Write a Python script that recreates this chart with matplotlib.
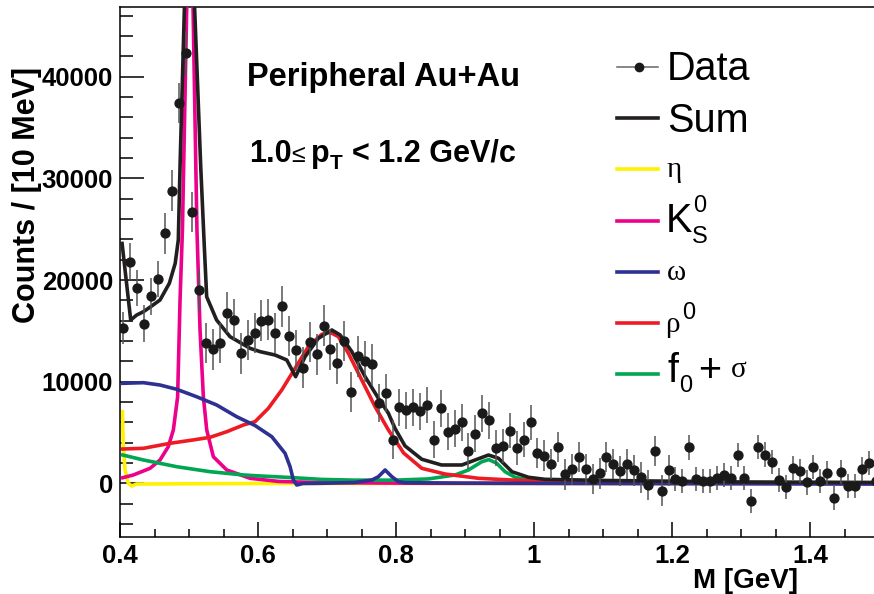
import numpy as np
import matplotlib
matplotlib.use("Agg")
import matplotlib.pyplot as plt
from matplotlib.lines import Line2D
from matplotlib.ticker import FixedLocator, FixedFormatter, MultipleLocator

plt.rcParams['font.family'] = ['Liberation Sans', 'DejaVu Sans']

# ---------------- data ----------------
mass_centers = np.round(np.arange(0.405, 1.5, 0.01), 3)   # 10 MeV bins
counts = [
    15300, 21800, 19200, 15700, 18400, 20100, 24600, 28800, 37400, 42300,
    26700, 19000, 13800, 13200, 13800, 16800, 16100, 12800, 14100, 14800,
    16000, 16100, 14800, 17400, 14500, 13100, 11400, 13900, 12700, 15500,
    13200, 11800, 14000, 9000, 12500, 12000, 11700, 7900, 8900, 4300,
    7500, 7200, 7500, 7100, 7700, 4300, 7400, 5100, 5400, 6000,
    3200, 4900, 6900, 6200, 3500, 3700, 5200, 3500, 4300, 6000,
    3000, 2750, 1900, 3600, 900, 1400, 2600, 1400, 450, 1000,
    2600, 1900, 1250, 1900, 1300, 600, -150, 3200, -700, 1300,
    450, 250, 3550, 450, 250, 250, 550, 850, 550, 2800,
    550, -1700, 3600, 2850, 2100, 350, -350, 1550, 1250, 100,
    1650, 250, 1050, -1400, 1150, -250, -250, 1400, 2000, 200,
]
errors = [
    1600, 1800, 1800, 1800, 1800, 1800, 2000, 2000, 2000, 2200,
    2000, 2000, 2000, 2000, 2000, 2000, 2000, 2000, 2000, 2000,
    2000, 2000, 2000, 2000, 2000, 2000, 2000, 2000, 2000, 2000,
    2000, 2000, 2000, 2000, 2000, 2000, 2000, 1900, 1900, 1900,
    1800, 1800, 1800, 1800, 1800, 1800, 1800, 1800, 1800, 1800,
    1800, 1800, 1800, 1800, 1800, 1700, 1700, 1700, 1700, 1700,
    1500, 1500, 1500, 1500, 1500, 1500, 1500, 1500, 1500, 1500,
    1500, 1500, 1500, 1500, 1500, 1500, 1500, 1500, 1500, 1500,
    1200, 1200, 1200, 1200, 1200, 1200, 1200, 1200, 1200, 1200,
    1200, 1200, 1200, 1200, 1200, 1200, 1200, 1200, 1200, 1200,
    1200, 1200, 1200, 1200, 1200, 1200, 1200, 1200, 1200, 1200,
]

sum_m = [0.403, 0.4155, 0.4242, 0.434, 0.4445, 0.458, 0.4715, 0.48, 0.4845, 0.487,
         0.4995, 0.517, 0.5222, 0.5256, 0.540, 0.5595, 0.5885, 0.603, 0.6247, 0.6417,
         0.6545, 0.6682, 0.6875, 0.707, 0.719, 0.736, 0.7552, 0.7745, 0.789, 0.7987,
         0.813, 0.8374, 0.866, 0.8954, 0.9147, 0.934, 0.9485, 0.968, 0.992, 1.016,
         1.1, 1.3, 1.5]
sum_v = [23600, 16070, 16560, 16890, 17380, 18040, 19680, 21640, 23940, 31140,
         62000, 31140, 23280, 18360, 16070, 14430, 13290, 12960, 12630, 12140,
         10500, 12460, 14270, 15090, 14600, 12960, 10500, 8375, 6900, 5400,
         3700, 2380, 1820, 1820, 2310, 2800, 2480, 1160, 610, 410,
         300, 150, 100]

k0s_m = [0.404, 0.4193, 0.4435, 0.458, 0.470, 0.4773, 0.4835, 0.487, 0.4905, 0.5015,
         0.5115, 0.516, 0.5208, 0.5257, 0.5353, 0.5547, 0.5885, 0.63, 0.7, 0.85, 1.5]
k0s_v = [570, 836, 1490, 2310, 3620, 5260, 8500, 18000, 25000, 63700,
         25000, 15090, 8530, 5260, 2630, 1330, 510, 200, 80, 20, 0]

omega_m = [0.404, 0.434, 0.458, 0.4822, 0.511, 0.540, 0.569, 0.5957, 0.62, 0.6392,
           0.6465, 0.6513, 0.6562, 0.665, 0.6925, 0.74, 0.765, 0.7745, 0.7842, 0.794,
           0.8035, 0.813, 0.9, 1.5]
omega_v = [9850, 9910, 9680, 9260, 8530, 7720, 6570, 5700, 4600, 2970,
           1650, 340, -150, 0, 20, 100, 340, 670, 1330, 670,
           180, 80, 30, -50]

rho_m = [0.404, 0.434, 0.4725, 0.506, 0.5305, 0.5547, 0.5788, 0.5957, 0.615, 0.6344,
         0.6537, 0.673, 0.6925, 0.7045, 0.7165, 0.731, 0.7504, 0.7697, 0.789, 0.7987,
         0.811, 0.8374, 0.8712, 0.9195, 0.968, 1.05, 1.2, 1.5]
rho_v = [3390, 3460, 3950, 4280, 4540, 5090, 5750, 6080, 7390, 9190,
         11320, 13450, 14670, 14860, 14430, 12800, 10170, 7550, 5260, 4280,
         3000, 1490, 930, 510, 340, 150, 50, 0]

f0_m = [0.404, 0.434, 0.4822, 0.5305, 0.5788, 0.6, 0.644, 0.6925, 0.74, 0.80,
        0.847, 0.8857, 0.905, 0.9244, 0.9345, 0.946, 0.958, 0.9727, 0.992, 1.05,
        1.2, 1.5]
f0_v = [2800, 2310, 1650, 1160, 840, 750, 600, 400, 330, 330,
        450, 840, 1330, 2140, 2350, 1990, 1160, 610, 340, 150,
        50, 20]

eta_m = [0.4035, 0.4048, 0.4073, 0.412, 0.417, 0.424, 0.6, 0.8, 1.0, 1.5]
eta_v = [7060, 3620, 1330, 20, -250, -50, 0, 0, 0, 0]

x_ticks = [0.4, 0.6, 0.8, 1.0, 1.2, 1.4]
x_tick_labels = ["0.4", "0.6", "0.8", "1", "1.2", "1.4"]
y_ticks = [0, 10000, 20000, 30000, 40000]
y_tick_labels = ["0", "10000", "20000", "30000", "40000"]

C_ETA = '#fff200'
C_K0S = '#ec008c'
C_OMEGA = '#2e3192'
C_RHO = '#ed1c24'
C_F0 = '#00a651'
C_SUM = '#231f20'

# ---------------- figure ----------------
W, H = 874, 594
fig = plt.figure(figsize=(W / 100, H / 100), dpi=100)
ax_l, ax_r, ax_t, ax_b = 120, 879, 7.3, 536.7
ax = fig.add_axes([ax_l / W, 1 - ax_b / H, (ax_r - ax_l) / W, (ax_b - ax_t) / H])

lw = 2.6
ax.plot(eta_m, eta_v, color=C_ETA, lw=lw, zorder=2)
ax.plot(k0s_m, k0s_v, color=C_K0S, lw=lw, zorder=3)
ax.plot(f0_m, f0_v, color=C_F0, lw=lw, zorder=4)
ax.plot(rho_m, rho_v, color=C_RHO, lw=lw, zorder=5)
ax.plot(omega_m, omega_v, color=C_OMEGA, lw=lw, zorder=6)
ax.plot(sum_m, sum_v, color=C_SUM, lw=lw, zorder=7)
ax.errorbar(mass_centers, counts, yerr=errors, fmt='o', color='#1a1a1a', ms=6.4,
            ecolor='#555555', elinewidth=1.1, capsize=0, zorder=8)

ax.set_xlim(0.4, 1.5)
ax.set_ylim(-5230, 46810)

ax.xaxis.set_major_locator(FixedLocator(x_ticks))
ax.xaxis.set_major_formatter(FixedFormatter(x_tick_labels))
ax.xaxis.set_minor_locator(MultipleLocator(0.05))
ax.yaxis.set_major_locator(FixedLocator(y_ticks))
ax.yaxis.set_major_formatter(FixedFormatter(y_tick_labels))
ax.yaxis.set_minor_locator(MultipleLocator(2000))

ax.tick_params(axis='x', which='major', direction='in', length=11, width=1.1, pad=5, labelsize=18.5)
ax.tick_params(axis='x', which='minor', direction='in', length=5.5, width=1.1)
ax.tick_params(axis='y', which='major', direction='in', length=17, width=1.1, pad=5, labelsize=18.5)
ax.tick_params(axis='y', which='minor', direction='in', length=9, width=1.1)
for lab in ax.get_xticklabels() + ax.get_yticklabels():
    lab.set_fontweight('bold')
for s in ax.spines.values():
    s.set_linewidth(1.1)


def fx(x):
    return x / W


def fy(y):
    return 1 - y / H


# axis titles
fig.text(fx(27), fy(195), "Counts / [10 MeV]", rotation=90, ha='center', va='center',
         fontsize=22, fontweight='bold')
fig.text(fx(798), fy(588), "M [GeV]", ha='right', va='baseline', fontsize=20, fontweight='bold')

# annotations
fig.text(fx(247), fy(86), "Peripheral Au+Au", ha='left', va='baseline', fontsize=23.5, fontweight='bold')
fig.text(fx(249), fy(162), "1.0", ha='left', va='baseline', fontsize=22, fontweight='bold')
fig.text(fx(291), fy(162), "\u2264", ha='left', va='baseline', fontsize=18)
fig.text(fx(311), fy(162), "p", ha='left', va='baseline', fontsize=22, fontweight='bold')
fig.text(fx(330), fy(169), "T", ha='left', va='baseline', fontsize=15, fontweight='bold')
fig.text(fx(352), fy(162), "< 1.2 GeV/c", ha='left', va='baseline', fontsize=22, fontweight='bold')

# legend
def leg_line(y, color, lw_=2.6):
    fig.add_artist(Line2D([fx(617), fx(658)], [fy(y), fy(y)], transform=fig.transFigure,
                          color=color, lw=lw_))


leg_line(66.7, '#666666', 1.1)
fig.add_artist(Line2D([fx(638.5)], [fy(66.7)], transform=fig.transFigure, marker='o',
                      color='#1a1a1a', ms=6, lw=0))
fig.text(fx(667), fy(80), "Data", fontsize=28.5, va='baseline')
leg_line(118.3, C_SUM)
fig.text(fx(667), fy(131.7), "Sum", fontsize=28.5, va='baseline')
leg_line(169.3, C_ETA)
fig.text(fx(667), fy(177), "\u03b7", fontsize=21, va='baseline', family='Liberation Serif')
leg_line(221, C_K0S)
fig.text(fx(666), fy(231.7), "K", fontsize=28.5, va='baseline')
fig.text(fx(693), fy(212), "0", fontsize=17, va='baseline')
fig.text(fx(692), fy(243), "S", fontsize=17, va='baseline')
leg_line(272.3, C_OMEGA)
fig.text(fx(667), fy(280), "\u03c9", fontsize=21, va='baseline', family='Liberation Serif')
leg_line(323.3, C_RHO)
fig.text(fx(665), fy(332), "\u03c1", fontsize=21, va='baseline', family='Liberation Serif')
fig.text(fx(682), fy(319), "0", fontsize=17, va='baseline')
leg_line(374, C_F0)
fig.text(fx(667), fy(381.7), "f", fontsize=28.5, va='baseline')
fig.text(fx(679), fy(392), "0", fontsize=17, va='baseline')
fig.text(fx(698), fy(381.7), "+", fontsize=28.5, va='baseline')
fig.text(fx(731), fy(377), "\u03c3", fontsize=21, va='baseline', family='Liberation Serif')

fig.savefig("out.png", dpi=100)
